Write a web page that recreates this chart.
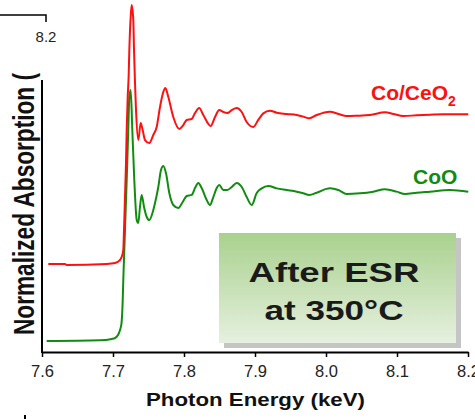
<!DOCTYPE html>
<html>
  <head>
    <meta charset="utf-8" />
    <script src="https://d3js.org/d3.v7.min.js"></script>
    <style>
      body {
        margin: 0;
        background: #fff;
      }
      text {
        font-family: "Liberation Sans", Arial, sans-serif;
      }
    </style>
  </head>
  <body>
    <div id="my_chart"></div>
    <script>
      // photon energy (keV) / normalized absorption (offset)
      const cooEnergy = [7.6066, 7.6817, 7.6982, 7.7028, 7.707, 7.7099, 7.712, 7.7137, 7.7145, 7.7169, 7.7193, 7.7215, 7.723, 7.7249, 7.7272, 7.73, 7.7334, 7.7356, 7.738, 7.7404, 7.7437, 7.7475, 7.7511, 7.7568, 7.7592, 7.7638, 7.7676, 7.7708, 7.7746, 7.7793, 7.7849, 7.792, 7.7982, 7.8038, 7.8108, 7.8155, 7.8201, 7.8249, 7.832, 7.8366, 7.8413, 7.8461, 7.8497, 7.8554, 7.861, 7.8672, 7.8742, 7.8813, 7.8883, 7.8954, 7.9024, 7.9094, 7.9187, 7.9306, 7.9446, 7.9587, 7.968, 7.9765, 7.9869, 8.0056, 8.0173, 8.0292, 8.0479, 8.0666, 8.0831, 8.0996, 8.1113, 8.1277, 8.1465, 8.1746, 8.2004];
      const cooValues = [-0.007, -0.002, 0.007, 0.013, 0.033, 0.067, 0.113, 0.267, 0.4, 0.733, 1.067, 1.4, 1.62, 1.667, 1.4, 1.067, 0.8, 0.78, 0.887, 0.967, 0.887, 0.82, 0.8, 0.867, 0.913, 1.02, 1.133, 1.16, 1.113, 0.98, 0.9, 0.88, 0.92, 0.96, 0.967, 1.013, 1.047, 1.013, 0.933, 0.9, 0.953, 1.013, 1.033, 1.0, 1.0, 1.02, 1.047, 1.02, 0.953, 0.9, 0.98, 1.011, 1.027, 1.011, 1.0, 0.989, 0.978, 0.967, 0.982, 1.011, 1.0, 0.973, 0.978, 0.989, 1.005, 0.989, 0.973, 0.982, 0.989, 1.0, 0.989];

      const ceoEnergy = [7.6089, 7.6324, 7.6348, 7.6911, 7.7028, 7.7089, 7.7123, 7.7145, 7.7155, 7.7169, 7.7183, 7.7193, 7.7207, 7.7221, 7.723, 7.7249, 7.7263, 7.7286, 7.7296, 7.731, 7.7324, 7.7356, 7.739, 7.7418, 7.7451, 7.7511, 7.7568, 7.7615, 7.7662, 7.7708, 7.7737, 7.7779, 7.7849, 7.7934, 7.799, 7.8038, 7.8108, 7.8155, 7.8215, 7.8272, 7.8376, 7.8437, 7.8497, 7.8554, 7.861, 7.8672, 7.8742, 7.8813, 7.8883, 7.8976, 7.9046, 7.9117, 7.9211, 7.9306, 7.9446, 7.9587, 7.968, 7.9765, 7.9869, 8.0056, 8.0173, 8.0292, 8.0432, 8.062, 8.0831, 8.0948, 8.1089, 8.1277, 8.1465, 8.1652, 8.1841, 8.2004];
      const ceoValues = [0.507, 0.507, 0.5, 0.507, 0.513, 0.529, 0.555, 0.6, 0.733, 0.953, 1.18, 1.4, 1.62, 1.767, 1.933, 2.153, 2.233, 2.133, 1.933, 1.713, 1.533, 1.333, 1.447, 1.4, 1.333, 1.313, 1.367, 1.42, 1.553, 1.653, 1.68, 1.62, 1.487, 1.407, 1.433, 1.467, 1.473, 1.513, 1.547, 1.5, 1.427, 1.487, 1.533, 1.52, 1.513, 1.533, 1.547, 1.52, 1.453, 1.42, 1.467, 1.511, 1.529, 1.515, 1.507, 1.5, 1.489, 1.478, 1.5, 1.522, 1.507, 1.493, 1.495, 1.5, 1.518, 1.507, 1.493, 1.498, 1.502, 1.505, 1.505, 1.505];

      const xTicks = [7.6, 7.7, 7.8, 7.9, 8.0, 8.1, 8.2];

      const W = 475,
        H = 419;
      const margin = { top: 0, right: 7, bottom: 67, left: 42 };

      const svg = d3
        .select("#my_chart")
        .append("svg")
        .attr("width", W)
        .attr("height", H);

      const x = d3
        .scaleLinear()
        .domain([7.6, 8.2])
        .range([margin.left, W - margin.right]);
      const y = d3
        .scaleLinear()
        .domain([-0.08, 2.2667])
        .range([H - margin.bottom, margin.top]);

      // leftover of the panel above (cropped)
      svg
        .append("path")
        .attr("d", "M0,15H46V22")
        .attr("fill", "none")
        .attr("stroke", "#000")
        .attr("stroke-width", 1.5);
      svg
        .append("text")
        .attr("x", 46)
        .attr("y", 42)
        .attr("text-anchor", "middle")
        .attr("font-size", 15)
        .attr("fill", "#222")
        .text("8.2");

      // x axis
      const xAxis = svg
        .append("g")
        .attr("transform", "translate(0," + y.range()[0] + ")")
        .call(
          d3
            .axisBottom(x)
            .tickValues(xTicks)
            .tickSize(5)
            .tickSizeOuter(0)
            .tickFormat(d3.format(".1f"))
        );
      xAxis.select(".domain").attr("stroke-width", 2);
      xAxis.selectAll(".tick line").attr("stroke-width", 1.5);
      xAxis
        .selectAll(".tick text")
        .attr("font-size", 16.5)
        .attr("font-family", "Liberation Sans, Arial, sans-serif")
        .attr("fill", "#222")
        .attr("dy", "1.05em");

      // y axis (no ticks)
      svg
        .append("line")
        .attr("x1", margin.left)
        .attr("x2", margin.left)
        .attr("y1", 80)
        .attr("y2", y.range()[0] + 1)
        .attr("stroke", "#000")
        .attr("stroke-width", 2);

      svg
        .append("text")
        .attr("x", 0)
        .attr("y", 0)
        .attr("transform", "translate(34,335) scale(1.3,1) rotate(-90)")
        .attr("font-size", 22)
        .attr("font-weight", "bold")
        .attr("fill", "#111")
        .attr("textLength", 262)
        .attr("lengthAdjust", "spacingAndGlyphs")
        .text("Normalized Absorption (");

      svg
        .append("text")
        .attr("x", 146)
        .attr("y", 406)
        .attr("font-size", 19)
        .attr("font-weight", "bold")
        .attr("fill", "#111")
        .attr("textLength", 219)
        .attr("lengthAdjust", "spacingAndGlyphs")
        .text("Photon Energy (keV)");

      // spectra
      const line = d3
        .line()
        .x((d) => x(d[0]))
        .y((d) => y(d[1]))
        .curve(d3.curveMonotoneX);

      const series = [
        { name: "CoO", e: cooEnergy, v: cooValues, color: "#118c11" },
        { name: "Co/CeO2", e: ceoEnergy, v: ceoValues, color: "#ff1010" },
      ];

      svg
        .selectAll(".spec")
        .data(series)
        .enter()
        .append("path")
        .attr("class", "spec")
        .attr("fill", "none")
        .attr("stroke", (d) => d.color)
        .attr("stroke-width", 2)
        .attr("stroke-linejoin", "round")
        .attr("d", (d) => line(d.e.map((e, i) => [e, d.v[i]])));

      // labels
      const ceoLabel = svg
        .append("text")
        .attr("x", 371)
        .attr("y", 100)
        .attr("font-size", 21)
        .attr("font-weight", "bold")
        .attr("fill", "#ff1010");
      ceoLabel.append("tspan").text("Co/CeO");
      ceoLabel
        .append("tspan")
        .attr("font-size", 14)
        .attr("dy", 6)
        .text("2");

      svg
        .append("text")
        .attr("x", 413)
        .attr("y", 184)
        .attr("font-size", 21)
        .attr("font-weight", "bold")
        .attr("fill", "#118c11")
        .text("CoO");

      // annotation box
      const defs = svg.append("defs");
      const grad = defs
        .append("linearGradient")
        .attr("id", "boxGrad")
        .attr("x1", 0)
        .attr("y1", 0)
        .attr("x2", 0)
        .attr("y2", 1);
      grad.append("stop").attr("offset", "0%").attr("stop-color", "#a9d18e");
      grad.append("stop").attr("offset", "100%").attr("stop-color", "#e6f0df");

      svg
        .append("rect")
        .attr("x", 224)
        .attr("y", 238)
        .attr("width", 237)
        .attr("height", 110)
        .attr("fill", "#c4c4c4");
      svg
        .append("rect")
        .attr("x", 219)
        .attr("y", 233)
        .attr("width", 237)
        .attr("height", 110)
        .attr("fill", "url(#boxGrad)");

      svg
        .append("text")
        .attr("x", 334)
        .attr("y", 282)
        .attr("text-anchor", "middle")
        .attr("font-size", 28)
        .attr("font-weight", "bold")
        .attr("fill", "#1a1a1a")
        .attr("textLength", 171)
        .attr("lengthAdjust", "spacingAndGlyphs")
        .text("After ESR");
      svg
        .append("text")
        .attr("x", 334)
        .attr("y", 320)
        .attr("text-anchor", "middle")
        .attr("font-size", 28)
        .attr("font-weight", "bold")
        .attr("fill", "#1a1a1a")
        .attr("textLength", 139)
        .attr("lengthAdjust", "spacingAndGlyphs")
        .text("at 350°C");

      // leftover mark below (cropped)
      svg
        .append("line")
        .attr("x1", 25)
        .attr("x2", 25)
        .attr("y1", 415)
        .attr("y2", 419)
        .attr("stroke", "#000")
        .attr("stroke-width", 2);
    </script>
  </body>
</html>
